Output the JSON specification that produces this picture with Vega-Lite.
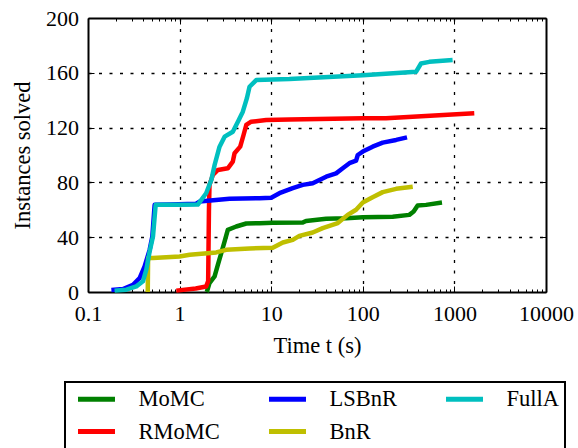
{
  "$schema": "https://vega.github.io/schema/vega-lite/v6.json",
  "width": 458,
  "height": 274,
  "autosize": {"type": "none"},
  "padding": {"left": 88, "top": 18, "right": 32, "bottom": 156},
  "config": {
    "font": "Liberation Serif, DejaVu Serif, serif",
    "view": {"stroke": null},
    "legend": {"strokeWidth": 2},
    "axis": {"labelFont": "Liberation Serif, DejaVu Serif, serif", "titleFont": "Liberation Serif, DejaVu Serif, serif"}
  },
  "data": {
    "values": [
      {"s": "MoMC", "t": 1.98, "n": 0},
      {"s": "MoMC", "t": 2.12, "n": 6.5},
      {"s": "MoMC", "t": 2.41, "n": 11.4},
      {"s": "MoMC", "t": 2.62, "n": 19.9},
      {"s": "MoMC", "t": 2.85, "n": 28.4},
      {"s": "MoMC", "t": 3.1, "n": 36.9},
      {"s": "MoMC", "t": 3.36, "n": 45.4},
      {"s": "MoMC", "t": 4.15, "n": 47.8},
      {"s": "MoMC", "t": 5.34, "n": 50.0},
      {"s": "MoMC", "t": 7.46, "n": 50.2},
      {"s": "MoMC", "t": 10.4, "n": 50.5},
      {"s": "MoMC", "t": 22.1, "n": 50.7},
      {"s": "MoMC", "t": 24, "n": 51.9},
      {"s": "MoMC", "t": 39.8, "n": 53.4},
      {"s": "MoMC", "t": 65.8, "n": 53.9},
      {"s": "MoMC", "t": 100, "n": 54.6},
      {"s": "MoMC", "t": 212, "n": 55},
      {"s": "MoMC", "t": 322, "n": 56.3},
      {"s": "MoMC", "t": 359, "n": 58.7},
      {"s": "MoMC", "t": 397, "n": 63.1},
      {"s": "MoMC", "t": 490, "n": 63.6},
      {"s": "MoMC", "t": 732, "n": 65.3},
      {"s": "RMoMC", "t": 0.92, "n": 1},
      {"s": "RMoMC", "t": 1.5, "n": 2.5},
      {"s": "RMoMC", "t": 1.95, "n": 4},
      {"s": "RMoMC", "t": 2.05, "n": 8},
      {"s": "RMoMC", "t": 2.09, "n": 58.7},
      {"s": "RMoMC", "t": 2.12, "n": 78.2},
      {"s": "RMoMC", "t": 2.31, "n": 85.5},
      {"s": "RMoMC", "t": 2.62, "n": 89.1},
      {"s": "RMoMC", "t": 3.36, "n": 90.3},
      {"s": "RMoMC", "t": 3.81, "n": 95.2},
      {"s": "RMoMC", "t": 3.98, "n": 101.3},
      {"s": "RMoMC", "t": 4.59, "n": 106.1},
      {"s": "RMoMC", "t": 4.99, "n": 114.6},
      {"s": "RMoMC", "t": 5.34, "n": 121.9},
      {"s": "RMoMC", "t": 6.05, "n": 124.3},
      {"s": "RMoMC", "t": 8.82, "n": 125.5},
      {"s": "RMoMC", "t": 15.8, "n": 126},
      {"s": "RMoMC", "t": 100, "n": 126.8},
      {"s": "RMoMC", "t": 179, "n": 126.8},
      {"s": "RMoMC", "t": 1648, "n": 130.4},
      {"s": "LSBnR", "t": 0.18, "n": 1.5},
      {"s": "LSBnR", "t": 0.241, "n": 2.2},
      {"s": "LSBnR", "t": 0.31, "n": 5.3},
      {"s": "LSBnR", "t": 0.366, "n": 10.2},
      {"s": "LSBnR", "t": 0.415, "n": 18.6},
      {"s": "LSBnR", "t": 0.471, "n": 30.8},
      {"s": "LSBnR", "t": 0.504, "n": 40.5},
      {"s": "LSBnR", "t": 0.534, "n": 63.6},
      {"s": "LSBnR", "t": 0.778, "n": 63.8},
      {"s": "LSBnR", "t": 1.52, "n": 64.5},
      {"s": "LSBnR", "t": 1.65, "n": 66},
      {"s": "LSBnR", "t": 3.51, "n": 68},
      {"s": "LSBnR", "t": 7.46, "n": 68.5},
      {"s": "LSBnR", "t": 10, "n": 68.8},
      {"s": "LSBnR", "t": 12.3, "n": 72.1},
      {"s": "LSBnR", "t": 17.2, "n": 75.8},
      {"s": "LSBnR", "t": 22.1, "n": 78.2},
      {"s": "LSBnR", "t": 28.4, "n": 79.4},
      {"s": "LSBnR", "t": 39.8, "n": 84.2},
      {"s": "LSBnR", "t": 51.1, "n": 86.6},
      {"s": "LSBnR", "t": 60.4, "n": 90.3},
      {"s": "LSBnR", "t": 71.4, "n": 94},
      {"s": "LSBnR", "t": 84.5, "n": 95.9},
      {"s": "LSBnR", "t": 88.1, "n": 100},
      {"s": "LSBnR", "t": 100, "n": 102.5},
      {"s": "LSBnR", "t": 128, "n": 106.1},
      {"s": "LSBnR", "t": 165, "n": 109},
      {"s": "LSBnR", "t": 231, "n": 111},
      {"s": "LSBnR", "t": 304, "n": 112.9},
      {"s": "BnR", "t": 0.449, "n": 0},
      {"s": "BnR", "t": 0.453, "n": 24.8},
      {"s": "BnR", "t": 0.512, "n": 24.8},
      {"s": "BnR", "t": 1.0, "n": 25.9},
      {"s": "BnR", "t": 1.29, "n": 27.2},
      {"s": "BnR", "t": 2.51, "n": 28.9},
      {"s": "BnR", "t": 3.23, "n": 30.8},
      {"s": "BnR", "t": 5.8, "n": 31.8},
      {"s": "BnR", "t": 10.4, "n": 32.3},
      {"s": "BnR", "t": 13.4, "n": 36.1},
      {"s": "BnR", "t": 17.2, "n": 38.1},
      {"s": "BnR", "t": 20.3, "n": 41},
      {"s": "BnR", "t": 28.4, "n": 43.4},
      {"s": "BnR", "t": 36.5, "n": 46.6},
      {"s": "BnR", "t": 53.3, "n": 50.3},
      {"s": "BnR", "t": 68.4, "n": 56.3},
      {"s": "BnR", "t": 84.5, "n": 60},
      {"s": "BnR", "t": 100, "n": 65.3},
      {"s": "BnR", "t": 128, "n": 69.2},
      {"s": "BnR", "t": 165, "n": 72.9},
      {"s": "BnR", "t": 231, "n": 75.3},
      {"s": "BnR", "t": 351, "n": 76.9},
      {"s": "FullA", "t": 0.195, "n": 1},
      {"s": "FullA", "t": 0.262, "n": 1.7},
      {"s": "FullA", "t": 0.337, "n": 4.1},
      {"s": "FullA", "t": 0.398, "n": 7.8},
      {"s": "FullA", "t": 0.433, "n": 16.3},
      {"s": "FullA", "t": 0.471, "n": 29.6},
      {"s": "FullA", "t": 0.512, "n": 40.5},
      {"s": "FullA", "t": 0.548, "n": 63.6},
      {"s": "FullA", "t": 1.0, "n": 63.6},
      {"s": "FullA", "t": 1.58, "n": 63.8},
      {"s": "FullA", "t": 1.95, "n": 72.1},
      {"s": "FullA", "t": 2.22, "n": 81.8},
      {"s": "FullA", "t": 2.41, "n": 92.7},
      {"s": "FullA", "t": 2.73, "n": 106.1},
      {"s": "FullA", "t": 3.1, "n": 113.4},
      {"s": "FullA", "t": 3.81, "n": 117},
      {"s": "FullA", "t": 4.33, "n": 124.3},
      {"s": "FullA", "t": 4.9, "n": 131.6},
      {"s": "FullA", "t": 5.42, "n": 141.3},
      {"s": "FullA", "t": 5.8, "n": 149.8},
      {"s": "FullA", "t": 6.86, "n": 154.7},
      {"s": "FullA", "t": 15.8, "n": 155.4},
      {"s": "FullA", "t": 100, "n": 158.3},
      {"s": "FullA", "t": 381, "n": 160.7},
      {"s": "FullA", "t": 432, "n": 166.8},
      {"s": "FullA", "t": 532, "n": 168},
      {"s": "FullA", "t": 956, "n": 169.3}
    ]
  },
  "layer": [
    {
      "mark": {"type": "line", "strokeWidth": 4.5, "strokeJoin": "round"},
      "encoding": {
        "x": {
          "field": "t",
          "type": "quantitative",
          "scale": {"type": "log", "domain": [0.1, 10000], "nice": false},
          "axis": {
            "orient": "bottom",
            "values": [0.1,0.2,0.3,0.4,0.5,0.6,0.7,0.8,0.9,1,2,3,4,5,6,7,8,9,10,20,30,40,50,60,70,80,90,100,200,300,400,500,600,700,800,900,1000,2000,3000,4000,5000,6000,7000,8000,9000,10000],
            "labelExpr": "indexof([1,10,100,1000,10000], datum.value) >= 0 ? format(datum.value, 'd') : (datum.value == 0.1 ? '0.1' : '')",
            "labelFontSize": 22,
            "labelColor": "black",
            "labelFlush": false,
            "labelOverlap": false,
            "labelBound": false,
            "labelPadding": 17,
            "tickColor": "black",
            "tickWidth": 1,
            "tickSize": {"condition": {"test": "indexof([0.1,1,10,100,1000,10000], datum.value) >= 0", "value": -6}, "value": -3},
            "grid": true,
            "gridColor": "black",
            "gridWidth": 1.3,
            "gridDash": [3, 7.5],
            "gridOpacity": {"condition": {"test": "indexof([1,10,100,1000], datum.value) >= 0", "value": 1}, "value": 0},
            "domainColor": "black",
            "domainWidth": 2,
            "title": "Time t (s)",
            "titleFontSize": 22.5,
            "titleFontWeight": "normal",
            "titleColor": "black",
            "titlePadding": 7
          }
        },
        "y": {
          "field": "n",
          "type": "quantitative",
          "scale": {"domain": [0, 200], "nice": false},
          "axis": {
            "orient": "left",
            "values": [0, 40, 80, 120, 160, 200],
            "labelFontSize": 22,
            "labelColor": "black",
            "labelPadding": 15.5,
            "labelFlush": false,
            "labelOverlap": false,
            "labelBound": false,
            "tickColor": "black",
            "tickWidth": 1,
            "tickSize": -6,
            "grid": true,
            "gridColor": "black",
            "gridWidth": 1.3,
            "gridDash": [3, 7.5],
            "gridOpacity": {"condition": {"test": "datum.value > 0 && datum.value < 200", "value": 1}, "value": 0},
            "domainColor": "black",
            "domainWidth": 2,
            "title": "Instances solved",
            "titleFontSize": 22.5,
            "titleFontWeight": "normal",
            "titleColor": "black",
            "titlePadding": 11.5
          }
        },
        "color": {
          "field": "s",
          "type": "nominal",
          "scale": {
            "domain": ["MoMC", "RMoMC", "LSBnR", "BnR", "FullA"],
            "range": ["#008000", "#ff0000", "#0000ff", "#bfbf00", "#00bfbf"]
          },
          "legend": {
            "orient": "none",
            "legendX": -23,
            "legendY": 364,
            "columns": 3,
            "title": null,
            "symbolType": "M-5.78,0M-4,0L4,0",
            "symbolSize": 85.5,
            "symbolStrokeWidth": 5,
            "symbolOffset": 14.5,
            "labelOffset": 30.75,
            "labelFontSize": 22.5,
            "labelColor": "black",
            "labelFont": "Liberation Serif, DejaVu Serif, serif",
            "rowPadding": 9.5,
            "columnPadding": 30,
            "padding": 5.75,
            "strokeColor": "black"
          }
        }
      }
    },
    {
      "mark": {"type": "point", "opacity": 0},
      "encoding": {
        "x": {
          "field": "t",
          "type": "quantitative",
          "scale": {"type": "log", "domain": [0.1, 10000], "nice": false},
          "axis": {
            "orient": "top",
            "values": [0.1,0.2,0.3,0.4,0.5,0.6,0.7,0.8,0.9,1,2,3,4,5,6,7,8,9,10,20,30,40,50,60,70,80,90,100,200,300,400,500,600,700,800,900,1000,2000,3000,4000,5000,6000,7000,8000,9000,10000],
            "labels": false,
            "grid": false,
            "title": null,
            "tickColor": "black",
            "tickWidth": 1,
            "tickSize": {"condition": {"test": "indexof([0.1,1,10,100,1000,10000], datum.value) >= 0", "value": -6}, "value": -3},
            "domainColor": "black",
            "domainWidth": 2
          }
        },
        "y": {
          "field": "n",
          "type": "quantitative",
          "scale": {"domain": [0, 200], "nice": false},
          "axis": {
            "orient": "right",
            "values": [0, 40, 80, 120, 160, 200],
            "labels": false,
            "grid": false,
            "title": null,
            "tickColor": "black",
            "tickWidth": 1,
            "tickSize": -6,
            "domainColor": "black",
            "domainWidth": 2
          }
        }
      }
    }
  ],
  "resolve": {"axis": {"x": "independent", "y": "independent"}}
}
